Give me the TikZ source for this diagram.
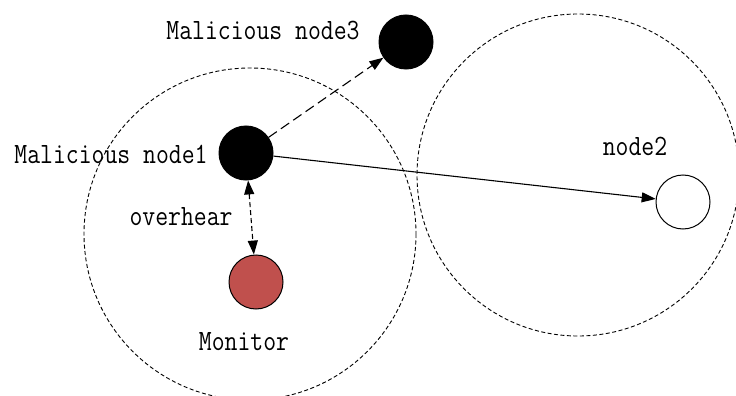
\documentclass[tikz,border=0pt]{standalone}
\usepackage{graphicx}
\usetikzlibrary{arrows.meta}
\definecolor{monitorred}{HTML}{C0504D}
\newcommand{\tallmono}[1]{\scalebox{1}[1.18]{\ttfamily\fontsize{25}{30}\selectfont #1}}
\begin{document}
\begin{tikzpicture}[x=1pt,y=-1pt,
  station/.style={circle,draw=black,line width=1pt,minimum size=54pt,inner sep=0pt},
  rogue/.style={station,fill=black},
  radiorange/.style={draw=black,line width=0.9pt,dash pattern=on 4pt off 2.5pt},
  lbl/.style={inner sep=0pt},
  link/.style={line width=1.1pt,-{Triangle[length=14pt,width=10pt]}},
  dlink/.style={link,dash pattern=on 10pt off 5pt}]
  \useasboundingbox (0,0) rectangle (736,396);
  \clip (0,0) rectangle (736,396);
  % transmission ranges
  \draw[radiorange] (250,234) circle (166);
  \draw[radiorange] (578,175) circle (161);
  % nodes
  \node[rogue] (m3) at (406,42) {};
  \node[rogue] (m1) at (246,153) {};
  \node[station,fill=monitorred] (mon) at (256,282) {};
  \node[station,fill=white] (n2) at (683,202) {};
  % labels
  \node[lbl] (l3) at (263,30) {\tallmono{Malicious node3}};
  \node[lbl] (l1) at (111,154) {\tallmono{Malicious node1}};
  \node[lbl] (lo) at (181,217) {\tallmono{overhear}};
  \node[lbl] (lm) at (244,342) {\tallmono{Monitor}};
  \node[lbl] (l2) at (635,146) {\tallmono{node2}};
  % links
  \draw[dlink] (m1) -- (m3);
  \draw[link] (m1) -- (n2);
  \draw[link,{Triangle[length=14pt,width=10pt]}-{Triangle[length=14pt,width=10pt]},dash pattern=on 5pt off 3pt] (m1) -- (mon);
\end{tikzpicture}
\end{document}
